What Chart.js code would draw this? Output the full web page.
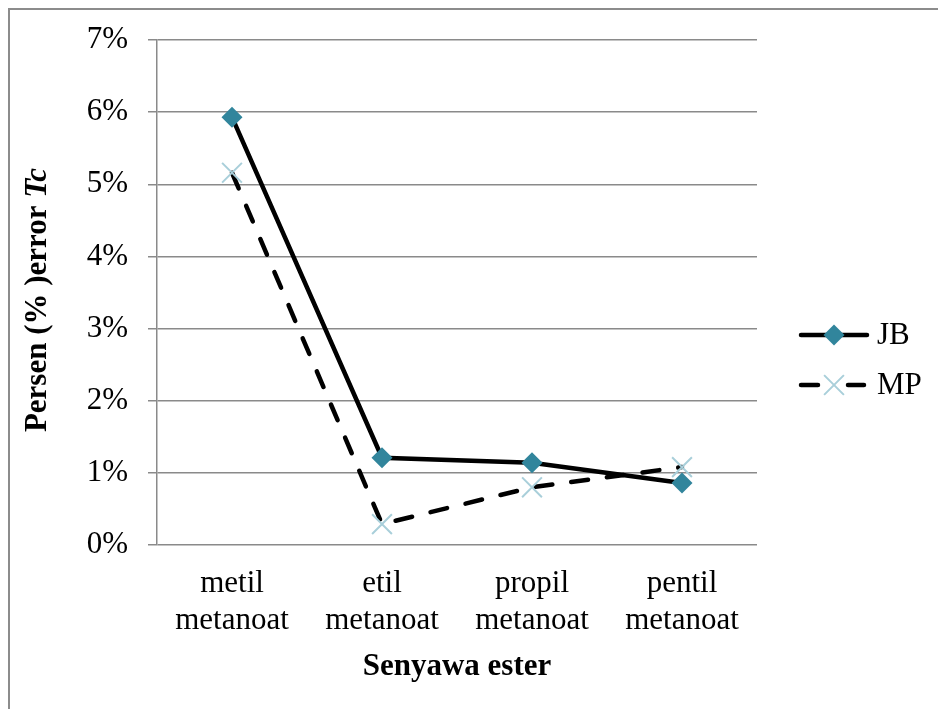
<!DOCTYPE html>
<html>
<head>
<meta charset="utf-8">
<script src="https://cdn.jsdelivr.net/npm/chart.js@4.4.0/dist/chart.umd.min.js"></script>
<style>
    html, body { margin: 0; padding: 0; background: #fff; }
    #wrap { width: 938px; height: 709px; position: relative; }
</style>
</head>
<body>
<div id="wrap"><canvas id="tcChart"></canvas></div>
<script>
const categories = [
    ["metil", "metanoat"],
    ["etil", "metanoat"],
    ["propil", "metanoat"],
    ["pentil", "metanoat"]
];
const jbValues = [5.93, 1.21, 1.14, 0.86];
const mpValues = [5.16, 0.29, 0.80, 1.08];
const yTicks = [0, 1, 2, 3, 4, 5, 6, 7];

const serif = "'Liberation Serif', 'Times New Roman', serif";
const gridGray = "#8a8a8a";
const fontSize = 31;

// frame round the picture + rotated y title with italic "Tc"
const decorPlugin = {
    id: "decor",
    beforeDraw(chart) {
        const ctx = chart.ctx;
        ctx.save();
        ctx.strokeStyle = "#8c8c8c";
        ctx.lineWidth = 2;
        ctx.beginPath();
        ctx.moveTo(9, chart.height);
        ctx.lineTo(9, 9);
        ctx.lineTo(chart.width, 9);
        ctx.stroke();
        ctx.restore();
    },
    afterDraw(chart) {
        const ctx = chart.ctx;
        const partA = "Persen (% )error ";
        const partB = "Tc";
        ctx.save();
        ctx.translate(38, 300);
        ctx.rotate(-Math.PI / 2);
        ctx.fillStyle = "#000";
        ctx.textBaseline = "middle";
        ctx.font = "bold " + fontSize + "px " + serif;
        const wA = ctx.measureText(partA).width;
        ctx.font = "italic bold " + fontSize + "px " + serif;
        const wB = ctx.measureText(partB).width;
        let x = -(wA + wB) / 2;
        ctx.font = "bold " + fontSize + "px " + serif;
        ctx.textAlign = "left";
        ctx.fillText(partA, x, 0);
        ctx.font = "italic bold " + fontSize + "px " + serif;
        ctx.fillText(partB, x + wA, 0);
        ctx.restore();

        // legend on the right
        const rows = [335, 385];
        chart.data.datasets.forEach((ds, i) => {
            const y = rows[i];
            ctx.save();
            ctx.strokeStyle = ds.borderColor;
            ctx.lineWidth = ds.borderWidth;
            ctx.lineCap = "round";
            ctx.beginPath();
            if (ds.borderDash && ds.borderDash.length) {
                ctx.moveTo(801, y); ctx.lineTo(818, y);
                ctx.moveTo(848, y); ctx.lineTo(864, y);
            } else {
                ctx.moveTo(801, y); ctx.lineTo(867, y);
            }
            ctx.stroke();
            const cx = 834, r = ds.pointRadius;
            if (ds.pointStyle === "rectRot") {
                ctx.fillStyle = ds.pointBackgroundColor;
                ctx.beginPath();
                ctx.moveTo(cx, y - r); ctx.lineTo(cx + r, y);
                ctx.lineTo(cx, y + r); ctx.lineTo(cx - r, y);
                ctx.closePath();
                ctx.fill();
            } else {
                const d = r * Math.SQRT1_2;
                ctx.strokeStyle = ds.pointBorderColor;
                ctx.lineWidth = ds.pointBorderWidth;
                ctx.lineCap = "butt";
                ctx.beginPath();
                ctx.moveTo(cx - d, y - d); ctx.lineTo(cx + d, y + d);
                ctx.moveTo(cx - d, y + d); ctx.lineTo(cx + d, y - d);
                ctx.stroke();
            }
            ctx.fillStyle = "#000";
            ctx.font = fontSize + "px " + serif;
            ctx.textAlign = "left";
            ctx.textBaseline = "middle";
            ctx.fillText(ds.label, 877, y + 1);
            ctx.restore();
        });
    }
};

new Chart(document.querySelector("#tcChart"), {
    type: "line",
    data: {
        labels: categories,
        datasets: [
            {
                label: "JB",
                data: jbValues,
                borderColor: "#000",
                borderWidth: 4.5,
                pointStyle: "rectRot",
                pointRadius: 10.5,
                pointBackgroundColor: "#31859c",
                pointBorderColor: "#31859c",
                pointBorderWidth: 0,
                tension: 0
            },
            {
                label: "MP",
                data: mpValues,
                borderColor: "#000",
                borderWidth: 4.5,
                borderDash: [17, 19],
                borderCapStyle: "round",
                pointStyle: "crossRot",
                pointRadius: 14,
                pointBorderColor: "#a9cfda",
                pointBackgroundColor: "#a9cfda",
                pointBorderWidth: 2,
                tension: 0
            }
        ]
    },
    options: {
        responsive: true,
        maintainAspectRatio: false,
        animation: false,
        events: [],
        layout: { padding: { top: 40, right: 181, left: 0, bottom: 0 } },
        plugins: {
            legend: { display: false },
            tooltip: { enabled: false }
        },
        scales: {
            x: {
                offset: true,
                grid: { display: false, drawTicks: false },
                border: { display: false },
                ticks: {
                    color: "#000",
                    padding: 20,
                    maxRotation: 0,
                    font: { family: serif, size: fontSize }
                },
                title: {
                    display: true,
                    text: "Senyawa ester",
                    color: "#000",
                    padding: { top: 0, bottom: 23 },
                    font: { family: serif, size: fontSize, weight: "bold" }
                },
                afterFit: scale => { scale.height = 164; }
            },
            y: {
                min: 0,
                max: 7,
                afterBuildTicks: scale => {
                    scale.ticks = yTicks.map(v => ({ value: v }));
                },
                grid: { color: gridGray, lineWidth: 1.5, tickLength: 9 },
                border: { display: true, color: gridGray, width: 1.5 },
                ticks: {
                    color: "#000",
                    padding: 20,
                    font: { family: serif, size: fontSize },
                    callback: v => v + "%"
                },
                afterFit: scale => { scale.width = 157; }
            }
        }
    },
    plugins: [decorPlugin]
});
</script>
</body>
</html>
